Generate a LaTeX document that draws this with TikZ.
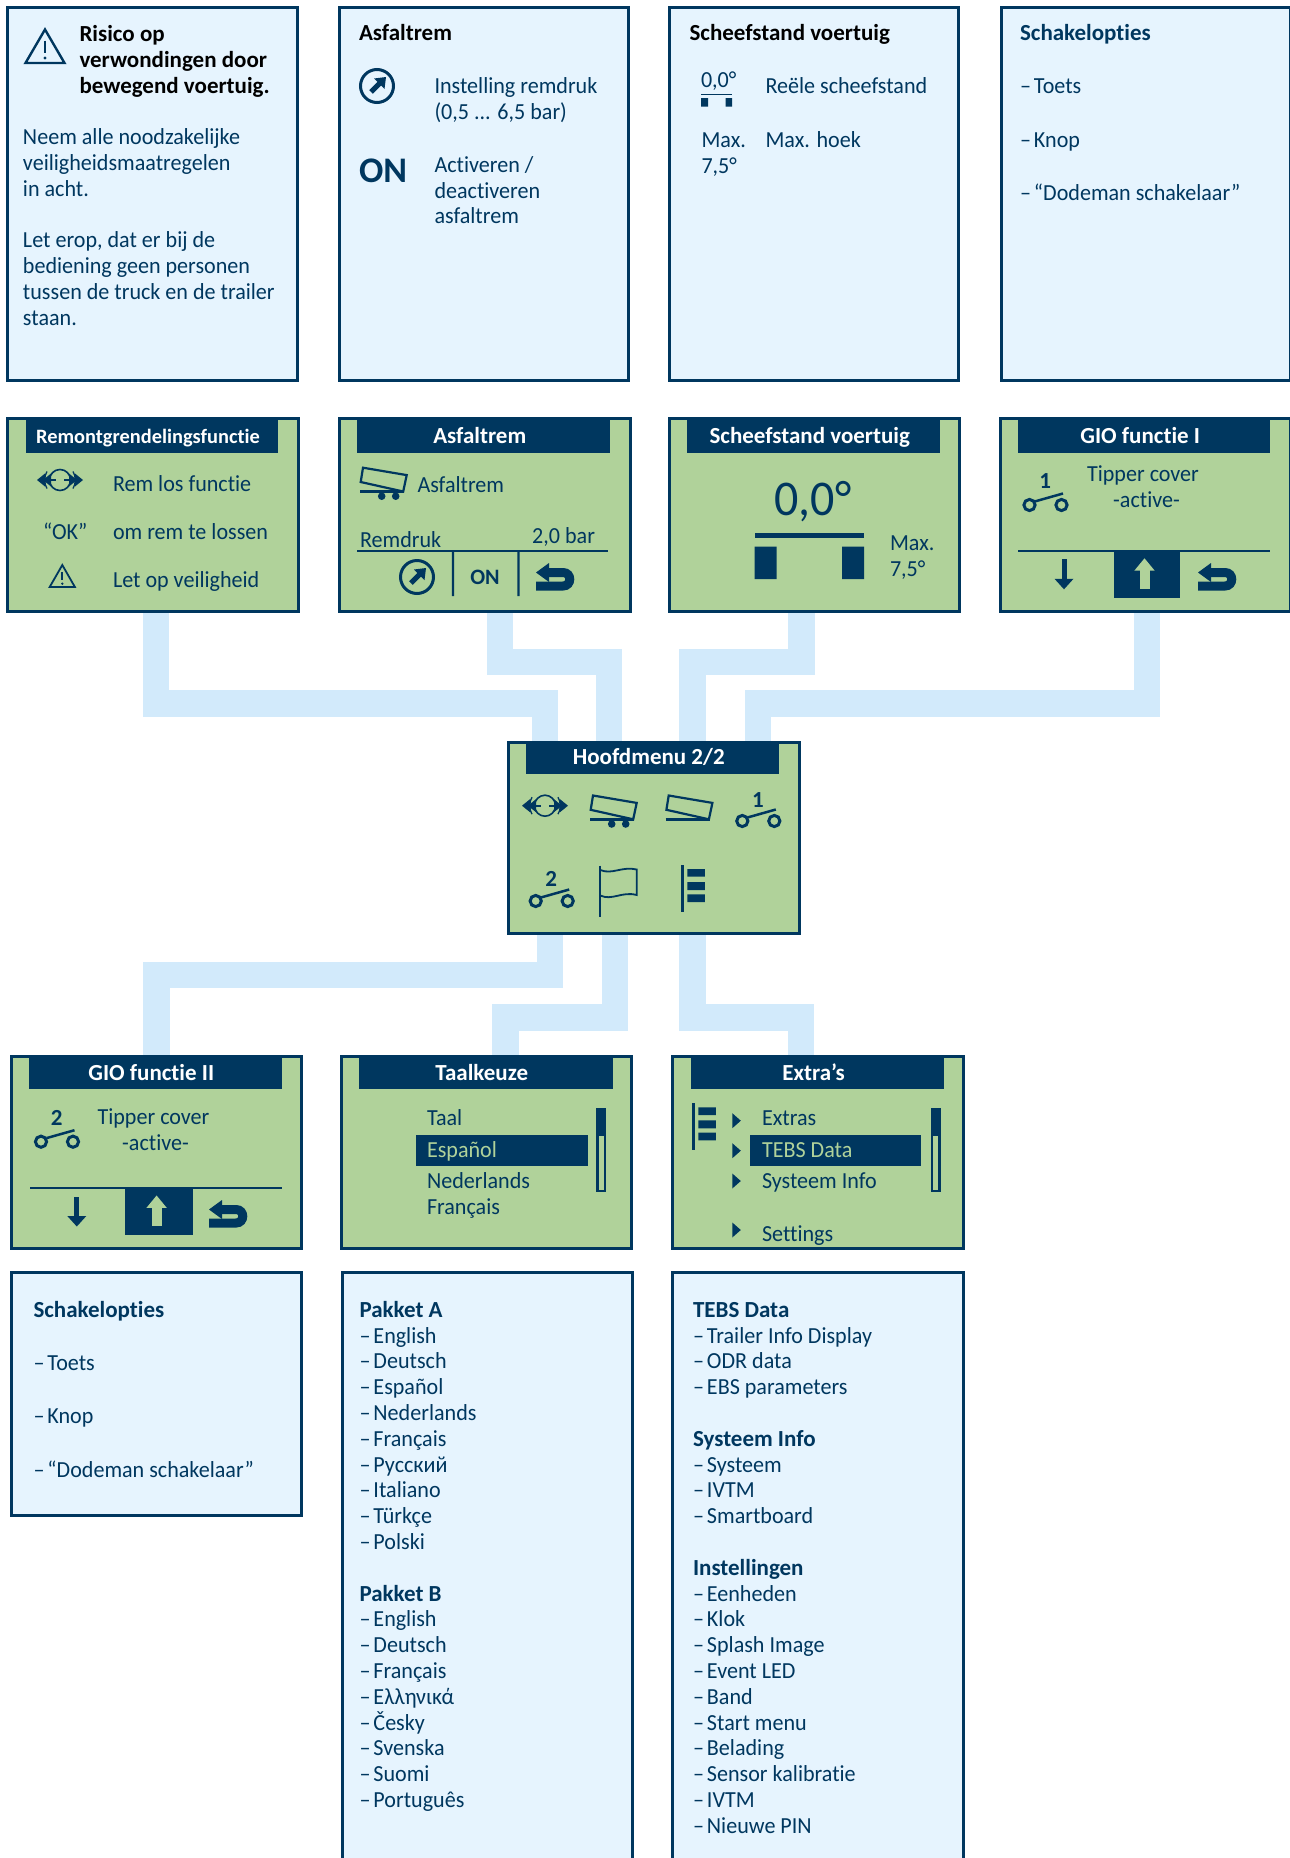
\documentclass[tikz,border=0pt]{standalone}
\usepackage{fontspec}
\setmainfont{Carlito}[Ligatures=NoCommon,FakeStretch=0.96,BoldFeatures={FakeStretch=1.0}]
\usetikzlibrary{backgrounds}
\definecolor{navy}{HTML}{00375F}
\definecolor{lcd}{HTML}{B0D29A}
\definecolor{pale}{HTML}{E6F4FE}
\definecolor{band}{HTML}{D2EAFB}
\newcounter{tn}
\newcommand\dd{–\hspace{3pt}}
\tikzset{
 x=1pt,y=-1pt,
 infobox/.style={draw=navy,fill=pale,line width=3pt,inner sep=0pt,outer sep=0pt},
 lcdbox/.style={draw=navy,fill=lcd,line width=3pt,inner sep=0pt,outer sep=0pt},
 titlebar/.style={fill=navy,text=white,inner sep=0pt,outer sep=0pt,font=\fontsize{23}{24}\selectfont\bfseries,text height=20pt,text depth=4pt},
 conn/.style={draw=band,line width=26.5pt},
 txt/.style={text=navy,inner sep=0pt,outer sep=0pt,align=left,font=\fontsize{23}{25.8}\selectfont},
 ctr/.style={text=navy,inner sep=0pt,outer sep=0pt,font=\fontsize{23}{25.8}\selectfont},
 hl/.style={fill=navy,inner sep=0pt,outer sep=0pt},
}
\newcommand\bx[6]{\pgfmathsetmacro\bw{#5-#3}\pgfmathsetmacro\bh{#6-#4}\pgfmathsetmacro\bcx{(#3+#5)/2}\pgfmathsetmacro\bcy{(#4+#6)/2}%
 \node[#2,minimum width=\bw pt,minimum height=\bh pt] (#1) at (\bcx,\bcy) {};}
\newcommand\ttl[6]{\pgfmathsetmacro\bw{#4-#3}\pgfmathsetmacro\bh{#6-#5}\pgfmathsetmacro\bcx{(#3+#4)/2}\pgfmathsetmacro\bcy{(#5+#6)/2}%
 \node[titlebar,minimum width=\bw pt,minimum height=\bh pt] (#1) at (\bcx,\bcy) {#2\hspace*{7.5pt}};}
% left text, first baseline at y
\newcommand\tx[4][]{\stepcounter{tn}\node[txt,#1,anchor=north west] (t\arabic{tn}) at (#2,#3-21.5) {\rule{0pt}{22pt}#4};}
% centred one-line text on a baseline
\newcommand\tc[4][]{\stepcounter{tn}\node[ctr,#1,anchor=base] (t\arabic{tn}) at (#2,#3) {#4};}
\newcommand\tr[4][]{\stepcounter{tn}\node[ctr,#1,anchor=base east] (t\arabic{tn}) at (#2,#3) {#4};}
\newcommand\retarr[2]{\begin{scope}[shift={(#1,#2)}]
 \draw[navy,line width=9pt] (12,9.5) -- (27,9.5) .. controls (36,9.5) and (36,23) .. (27,23) -- (0,23);
 \fill[navy] (0,9.5) -- (13,0) -- (13,19) -- cycle;
\end{scope}}
\newcommand\swt[4]{\begin{scope}[shift={(#1,#2)}]
 \draw[navy,line width=3pt] (0,0) circle[radius=5.6pt] (32,0) circle[radius=5.6pt];
 \draw[navy,line width=2.5pt] (5.5,-3.6) -- (33.5,-11.5);
 \tc[font=\fontsize{23}{24}\selectfont\bfseries]{15.6}{#4}{#3}
\end{scope}}
\newcommand\dial[2]{\begin{scope}[shift={(#1,#2)}]
 \draw[navy,line width=3pt] (0,0) circle[radius=16.5pt];
 \fill[navy] (9,-9) -- (7.5,3) -- (-3,-7.5) -- cycle;
 \draw[navy,line width=5pt] (-6,6) -- (3,-3);
\end{scope}}
\newcommand\brk[2]{\begin{scope}[shift={(#1,#2)}]
 \draw[navy,line width=1.6pt] (0,0) circle[radius=10.5pt];
 \draw[navy,line width=1.8pt] (-20,0) -- (-4,0) (4,0) -- (20,0);
 \draw[navy,line width=1.3pt] (-13,-8.5) .. controls (-16,-4) and (-16,4) .. (-13,8.5);
 \draw[navy,line width=1.3pt] (13,-8.5) .. controls (16,-4) and (16,4) .. (13,8.5);
 \fill[navy] (-23,0) -- (-15,-6.5) -- (-15,6.5) -- cycle (-17,0) -- (-9,-6.5) -- (-9,6.5) -- cycle;
 \fill[navy] (23,0) -- (15,-6.5) -- (15,6.5) -- cycle (17,0) -- (9,-6.5) -- (9,6.5) -- cycle;
\end{scope}}
\newcommand\tip[4]{\begin{scope}[shift={(#1,#2)}]
 \draw[navy,line width=2.2pt,line join=miter] (3,-23.8) -- (46.7,-16.4) -- (43.2,0) -- (0.7,-9.5) -- cycle;
 \draw[navy,line width=2.6pt] (0,0) -- (44.3,0);
 #3
\end{scope}}
\newcommand\whl{\fill[navy] (21.7,4.7) circle[radius=3.8pt] (35.7,4.7) circle[radius=3.8pt];}
\newcommand\warn[5]{% apex x, apex y, half width, height, lw
 \begin{scope}[shift={(#1,#2)}]
 \draw[navy,line width=#5pt,line join=miter] (0,0) -- (#3,#4) -- (-#3,#4) -- cycle;
 \draw[navy,line width=#5pt] (0,#4*0.33) -- (0,#4*0.7);
 \fill[navy] (0,#4*0.85) circle[radius=#5*0.7pt];
 \end{scope}}
\newcommand\menuicon[2]{\begin{scope}[shift={(#1,#2)}]
 \fill[navy] (-1.5,0) rectangle (1.5,46.7);
 \fill[navy] (5,4) rectangle (22.5,11.7) (5,17) rectangle (22.5,25) (5,29.3) rectangle (22.5,37);
\end{scope}}
\newcommand\darr[2]{\begin{scope}[shift={(#1,#2)}]
 \fill[navy] (-2.5,0) rectangle (2.5,20);
 \fill[navy] (0,30) -- (-9.5,19.5) -- (9.5,19.5) -- cycle;
\end{scope}}
\newcommand\uarr[2]{\begin{scope}[shift={(#1,#2)}]
 \fill[lcd] (-5,30.7) rectangle (5,12);
 \fill[lcd] (0,0) -- (-10.2,12.4) -- (10.2,12.4) -- cycle;
\end{scope}}
\newcommand\tri[2]{\fill[navy] (#1,#2-7.5) -- (#1+8.5,#2) -- (#1,#2+7.5) -- cycle;}
\newcommand\scrl[2]{\draw[navy,line width=2.6pt,fill=lcd] (#1+1.3,1135) rectangle (#1+8.9,#2-1.3);\fill[navy] (#1,1108.3) rectangle (#1+10.2,1135);}
\begin{document}
\begin{tikzpicture}
\useasboundingbox (0,0) rectangle (1290,1858);
% info boxes, top
\bx{i1}{infobox}{7}{7}{297.5}{380}
\bx{i2}{infobox}{339}{7}{628.5}{380}
\bx{i3}{infobox}{669}{7}{958.5}{380}
\bx{i4}{infobox}{1001}{7}{1290}{380}
\warn{45}{29.5}{19.5}{33.5}{2.4}
\tx[text=black]{79.5}{41}{\bfseries Risico op\\\bfseries verwondingen door\\\bfseries bewegend voertuig.}
\tx{23}{144}{Neem alle noodzakelijke\\veiligheidsmaatregelen\\in acht.\\~\\Let erop, dat er bij de\\bediening geen personen\\tussen de truck en de trailer\\staan.}
\tx[text=black]{359}{40}{\bfseries Asfaltrem}
\dial{377}{86}
\tx{434.5}{92.7}{Instelling remdruk\\(0,5 ... 6,5 bar)}
\tx[font=\fontsize{36}{38}\selectfont\bfseries\addfontfeature{FakeStretch=0.9}]{359}{180}{ON}
\tx{434.5}{171.7}{Activeren /\\deactiveren\\asfaltrem}
\tx[text=black]{689.5}{40}{\bfseries Scheefstand voertuig}
\tx{701}{86.7}{0,0°}
\fill[navy] (701,93.5) rectangle (732,95.2);
\fill[navy] (701,98) rectangle (708,106.7) (725.5,98) rectangle (732,106.7);
\tx{765.5}{92.7}{Reële scheefstand}
\tx{701.5}{146.7}{Max.\\7,5°}
\tx{765.5}{146.7}{Max. hoek}
\tx{1020}{40}{\bfseries Schakelopties}
\tx{1020}{92.7}{\dd Toets}
\tx{1020}{146.7}{\dd Knop}
\tx{1020}{200}{\dd “Dodeman schakelaar”}
% LCD screens, upper row
\bx{g1}{lcdbox}{7}{418.5}{298}{611.5}
\ttl{b1}{\fontsize{20.4}{22}\selectfont Remontgrendelingsfunctie}{25.5}{278}{418.5}{452.7}
\brk{60}{480}
\tx{113}{490.7}{Rem los functie}
\tx{43}{539}{“OK”}
\tx{113}{539}{om rem te lossen}
\warn{62.3}{565}{12.6}{22}{1.8}
\tx{113}{587}{Let op veiligheid}
\bx{g2}{lcdbox}{339.5}{418.5}{630.5}{611.5}
\ttl{b2}{Asfaltrem}{357}{610}{418.5}{452.7}
\tip{360}{491.5}{\whl}{}
\tx{417.5}{491.5}{Asfaltrem}
\tx{360}{546.5}{Remdruk}
\tr{595}{543}{2,0 bar}
\fill[navy] (357,549.7) rectangle (608,552.3);
\fill[navy] (451.8,551) rectangle (454.2,596) (517.3,551) rectangle (519.7,596);
\dial{417}{577}
\tc[font=\fontsize{22}{24}\selectfont\bfseries\addfontfeature{FakeStretch=0.92}]{485}{584.5}{ON}
\retarr{536}{563}
\bx{g3}{lcdbox}{669}{418.5}{959}{611.5}
\ttl{b3}{Scheefstand voertuig}{687}{940}{418.5}{452.7}
\tc[font=\fontsize{50}{54}\selectfont]{813}{515}{0,0°}
\fill[navy] (754.5,532.7) rectangle (864,537.7);
\fill[navy] (754.5,546.7) rectangle (776.6,579) (842,546.7) rectangle (864,579);
\tx{890}{550}{Max.}
\tx{890}{575.7}{7,5°}
\bx{g4}{lcdbox}{1000}{418.5}{1290}{611.5}
\ttl{b4}{GIO functie I}{1018}{1270}{418.5}{452.7}
\swt{1029.5}{505}{1}{-17}
\tc{1143}{481.7}{Tipper cover}
\tc{1146.5}{507.7}{-active-}
\fill[navy] (1018,549.7) rectangle (1270,552.3);
\darr{1064}{559.3}
\fill[navy] (1113.5,551) rectangle (1180,598);
\uarr{1144.5}{558.3}
\retarr{1198}{563}
% main menu
\bx{m}{lcdbox}{508}{742}{799}{933.5}
\ttl{b5}{\raisebox{1.5pt}{Hoofdmenu 2/2}}{526}{779}{741}{774}
\brk{545}{805.7}
\tip{590}{819.3}{\whl}{}
\tip{665.7}{819.3}{}{}
\swt{742.3}{821}{1}{-13.7}
\swt{535.7}{901}{2}{-15}
\draw[navy,line width=2pt] (600.3,865.7) -- (600.3,916.7);
\draw[navy,line width=1.8pt] (600.3,870) .. controls (612,875) and (622,866) .. (636.7,869.5) -- (636.7,895) .. controls (622,891) and (612,901) .. (600.3,895.5);
\menuicon{682.3}{865}
% LCD screens, lower row
\bx{g5}{lcdbox}{11}{1056.5}{301.5}{1248.5}
\ttl{b6}{GIO functie II}{28.5}{281.5}{1055}{1089}
\swt{41}{1141.7}{2}{-16}
\tc{153.5}{1124}{Tipper cover}
\tc{155.5}{1150}{-active-}
\fill[navy] (29.5,1186.7) rectangle (282,1189.3);
\darr{76.8}{1196.5}
\fill[navy] (125,1188) rectangle (192.6,1235);
\uarr{156.6}{1195.5}
\retarr{209}{1200}
\bx{g6}{lcdbox}{341.5}{1056.5}{631.5}{1248.5}
\ttl{b7}{Taalkeuze}{358.5}{612.5}{1055}{1089}
\tx{427}{1125}{Taal}
\fill[navy] (416,1135) rectangle (587.5,1166);
\tx[text=lcd]{427}{1156.7}{Español}
\tx{427}{1188.3}{Nederlands}
\tx{427}{1214.3}{Français}
\scrl{596}{1192.3}
\bx{g7}{lcdbox}{672}{1056.5}{963}{1248.5}
\ttl{b8}{Extra’s}{690.7}{944}{1055}{1089}
\menuicon{693.3}{1103.3}
\tri{732.3}{1120.7}
\tri{732.3}{1150.7}
\tri{732.3}{1181}
\tri{732.3}{1230}
\tx{762}{1125}{Extras}
\fill[navy] (750,1135) rectangle (921,1166);
\tx[text=lcd]{762}{1156.7}{TEBS Data}
\tx{762}{1188.3}{Systeem Info}
\tx{762}{1241}{Settings}
\scrl{930.7}{1192.3}
% info boxes, bottom
\bx{i5}{infobox}{11}{1272.5}{301}{1515}
\tx{33.5}{1316.7}{\bfseries Schakelopties}
\tx{33.5}{1370}{\dd Toets}
\tx{33.5}{1423.3}{\dd Knop}
\tx{33.5}{1477.3}{\dd “Dodeman schakelaar”}
\bx{i6}{infobox}{342}{1272.5}{632}{1880}
\tx{359.5}{1316.7}{\bfseries Pakket A\\\dd English\\\dd Deutsch\\\dd Español\\\dd Nederlands\\\dd Français\\\dd Русский\\\dd Italiano\\\dd Türkçe\\\dd Polski\\~\\\bfseries Pakket B\\\dd English\\\dd Deutsch\\\dd Français\\\dd Ελληνικά\\\dd Česky\\\dd Svenska\\\dd Suomi\\\dd Português}
\bx{i7}{infobox}{672}{1272.5}{963}{1880}
\tx{693}{1316.7}{\bfseries TEBS Data\\\dd Trailer Info Display\\\dd ODR data\\\dd EBS parameters\\~\\\bfseries Systeem Info\\\dd Systeem\\\dd IVTM\\\dd Smartboard\\~\\\bfseries Instellingen\\\dd Eenheden\\\dd Klok\\\dd Splash Image\\\dd Event LED\\\dd Band\\\dd Start menu\\\dd Belading\\\dd Sensor kalibratie\\\dd IVTM\\\dd Nieuwe PIN}
% connectors
\begin{scope}[on background layer]
\draw[conn] ([xshift=3.5pt]g1.south) -- ++(0,92) -| ([xshift=-108.5pt]m.north);
\draw[conn] ([xshift=15pt]g2.south) -- ++(0,50.5) -| ([xshift=-44.5pt]m.north);
\draw[conn] ([xshift=-12.5pt]g3.south) -- ++(0,50.5) -| ([xshift=39pt]m.north);
\draw[conn] ([xshift=2pt]g4.south) -- ++(0,92) -| ([xshift=104.5pt]m.north);
\draw[conn] ([xshift=-103.5pt]m.south) -- ++(0,41.5) -| ([xshift=0.25pt]g5.north);
\draw[conn] ([xshift=-38.5pt]m.south) -- ++(0,84) -| ([xshift=19pt]g6.north);
\draw[conn] ([xshift=39pt]m.south) -- ++(0,84) -| ([xshift=-16.5pt]g7.north);
\end{scope}
\end{tikzpicture}
\end{document}
